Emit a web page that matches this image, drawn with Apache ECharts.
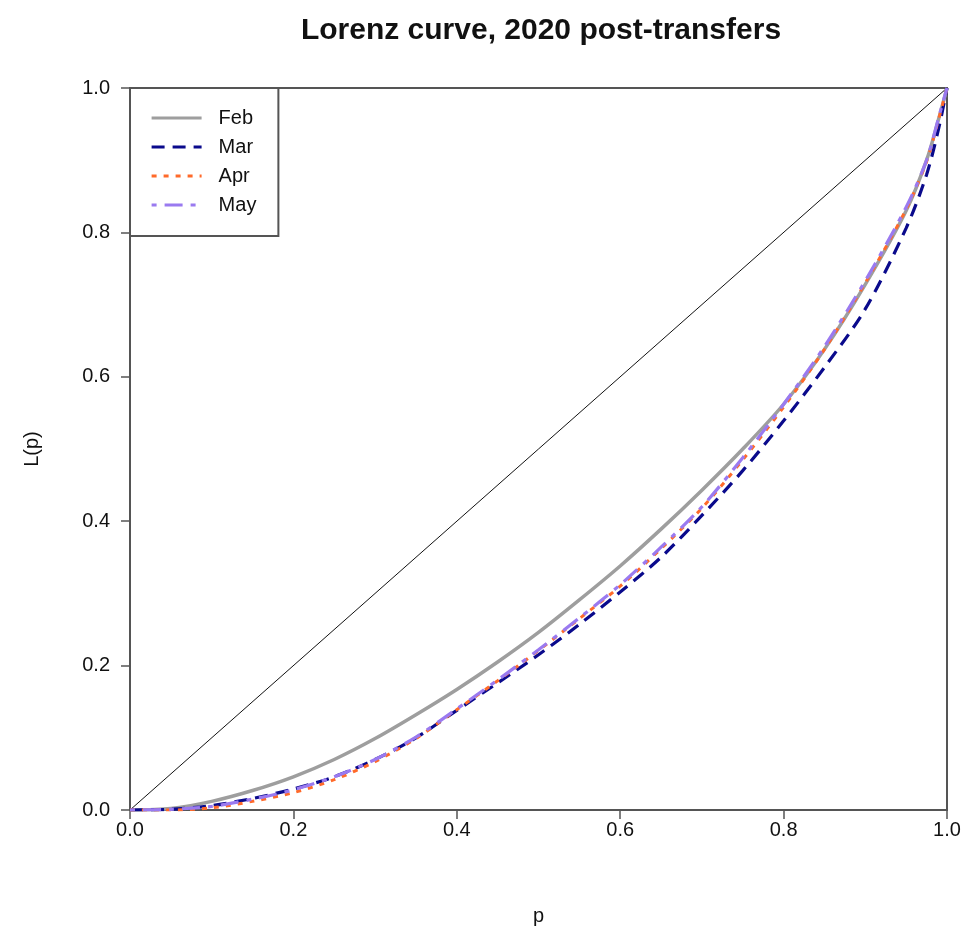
<!DOCTYPE html>
<html>
<head>
<meta charset="utf-8">
<script src="https://cdn.jsdelivr.net/npm/echarts@6/dist/echarts.min.js"></script>
<style>html,body{margin:0;padding:0;background:#fff}#chart{width:966px;height:935px}</style>
</head>
<body>
<div id="chart"></div>
<script>
var pShares = [0, 0.05, 0.1, 0.15, 0.2, 0.25, 0.3, 0.35, 0.4, 0.45, 0.5, 0.55, 0.6, 0.65, 0.7, 0.75, 0.8, 0.85, 0.9, 0.95, 0.975, 0.99, 1];
var febL = [0, 0.002, 0.012, 0.027, 0.046, 0.070, 0.099, 0.132, 0.167, 0.205, 0.246, 0.291, 0.338, 0.389, 0.443, 0.500, 0.562, 0.638, 0.728, 0.830, 0.900, 0.958, 1];
var marL = [0, 0.001, 0.006, 0.016, 0.029, 0.046, 0.070, 0.100, 0.138, 0.176, 0.215, 0.257, 0.302, 0.350, 0.408, 0.470, 0.539, 0.613, 0.694, 0.806, 0.880, 0.945, 1];
var aprL = [0, 0.000, 0.003, 0.012, 0.024, 0.042, 0.067, 0.099, 0.139, 0.179, 0.221, 0.265, 0.310, 0.362, 0.418, 0.485, 0.558, 0.638, 0.730, 0.832, 0.898, 0.958, 1];
var mayL = [0, 0.001, 0.005, 0.015, 0.028, 0.046, 0.070, 0.101, 0.140, 0.180, 0.222, 0.266, 0.312, 0.364, 0.420, 0.488, 0.562, 0.642, 0.733, 0.835, 0.900, 0.960, 1];
var equalityX = [0, 1];
var equalityY = [0, 1];
var seriesNames = ['Feb', 'Mar', 'Apr', 'May'];
var tickValues = [0, 0.2, 0.4, 0.6, 0.8, 1.0];

function pairs(xs, ys) { return xs.map(function (x, i) { return [x, ys[i]]; }); }

var font = 'Liberation Sans, Arial, Helvetica, sans-serif';
var chart = echarts.init(document.getElementById('chart'), null, {renderer: 'canvas'});
var axisCommon = {
  type: 'value', min: 0, max: 1, interval: 0.2,
  axisLine: {show: true, lineStyle: {color: '#555', width: 2}},
  axisTick: {show: true, inside: false, length: 9, lineStyle: {color: '#555', width: 1.5}},
  splitLine: {show: false},
  axisLabel: {color: '#111', fontSize: 20, fontFamily: font, formatter: function (v) { return v.toFixed(1); }},
  nameLocation: 'middle',
  nameTextStyle: {color: '#111', fontSize: 20, fontFamily: font}
};
chart.setOption({
  animation: false,
  backgroundColor: '#fff',
  title: {
    text: 'Lorenz curve, 2020 post-transfers',
    left: 536, top: 11, textAlign: 'center',
    textStyle: {fontSize: 30, fontWeight: 'bold', color: '#111', fontFamily: font}
  },
  grid: {left: 130, right: 19, top: 88, bottom: 125, show: true, borderColor: '#555', borderWidth: 2, backgroundColor: 'transparent'},
  xAxis: Object.assign({}, axisCommon, {name: 'p', nameGap: 96, axisLabel: Object.assign({}, axisCommon.axisLabel, {margin: 10})}),
  yAxis: Object.assign({}, axisCommon, {name: 'L(p)', nameGap: 88, axisLabel: Object.assign({}, axisCommon.axisLabel, {margin: 20})}),
  legend: {
    data: seriesNames.map(function (n) { return {name: n, itemStyle: {opacity: 0}}; }),
    orient: 'vertical',
    left: 130, top: 88,
    padding: [20, 22, 21, 20],
    itemWidth: 50, itemHeight: 14, itemGap: 9,
    backgroundColor: '#fff',
    borderColor: '#555', borderWidth: 2, borderRadius: 0,
    lineStyle: {width: 3.2},
    textStyle: {fontSize: 20, color: '#111', fontFamily: font, padding: [0, 0, 0, 12]}
  },
  series: [
    {name: 'equality', type: 'line', data: pairs(equalityX, equalityY), symbol: 'none', silent: true,
     lineStyle: {color: '#111', width: 1}, z: 1},
    {name: 'Feb', type: 'line', data: pairs(pShares, febL), symbol: 'none', smooth: 0.3,
     lineStyle: {color: '#9e9e9e', width: 3.5, type: 'solid'}, itemStyle: {color: '#9e9e9e'}, z: 2},
    {name: 'Mar', type: 'line', data: pairs(pShares, marL), symbol: 'none', smooth: 0.3,
     lineStyle: {color: '#0a0a8c', width: 3.2, type: [13, 8]}, itemStyle: {color: '#0a0a8c'}, z: 3},
    {name: 'Apr', type: 'line', data: pairs(pShares, aprL), symbol: 'none', smooth: 0.3,
     lineStyle: {color: '#ff6a2a', width: 3, type: [5, 7]}, itemStyle: {color: '#ff6a2a'}, z: 4},
    {name: 'May', type: 'line', data: pairs(pShares, mayL), symbol: 'none', smooth: 0.3,
     lineStyle: {color: '#9a7af0', width: 3.2, type: [5, 8, 18, 8]}, itemStyle: {color: '#9a7af0'}, z: 5}
  ]
});
</script>
</body>
</html>
